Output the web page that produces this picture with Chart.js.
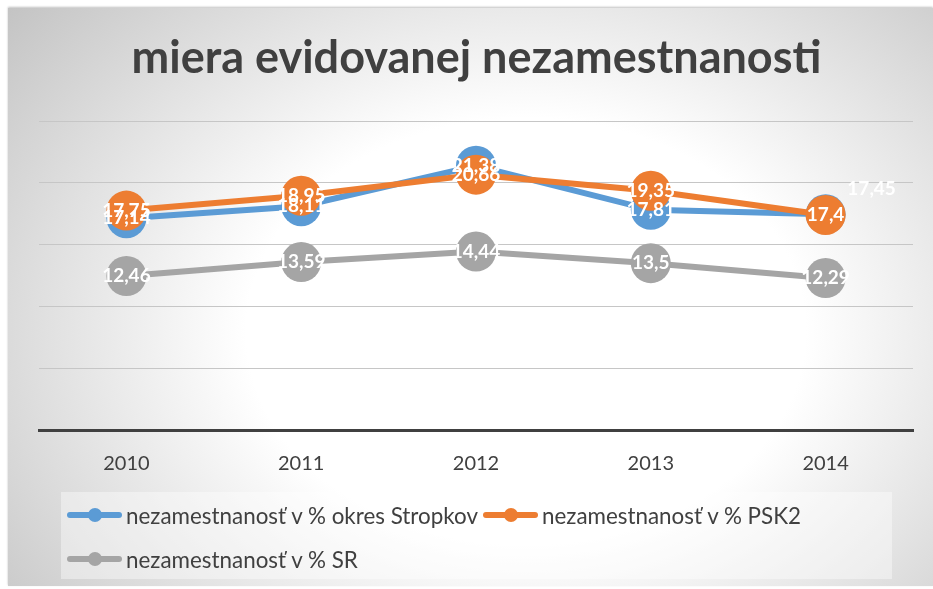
<!DOCTYPE html>
<html>
<head>
<meta charset="utf-8">
<title>miera evidovanej nezamestnanosti</title>
<script src="https://cdn.jsdelivr.net/npm/chart.js@4.4.0/dist/chart.umd.min.js"></script>
<style>
  body { margin: 0; background: #fff; }
  #frame {
    position: absolute; left: 8px; top: 8px; width: 925px; height: 578px;
    background: radial-gradient(ellipse 72% 88% at 56% 56%, #ffffff 0%, #ffffff 42%, #c4c4c4 100%);
    box-shadow: 0 -1px 2px rgba(0,0,0,0.25);
  }
  #wrap { position: absolute; left: 0; top: 0; width: 933px; height: 589px; }
  #legend {
    position: absolute; left: 61px; top: 492px; width: 831px; height: 87px;
    background: rgba(255,255,255,0.4);
    font-family: Lato, sans-serif; font-size: 22.4px; color: #404040;
    display: flex; flex-wrap: wrap; align-content: flex-start;
    padding: 10px 0 0 6px; box-sizing: border-box; row-gap: 18px; column-gap: 5px;
  }
  .item { display: flex; align-items: center; height: 26px; white-space: nowrap; }
  .mk { position: relative; width: 55px; height: 26px; margin-right: 4px; }
  .mk .ln { position: absolute; left: 0; right: 0; top: 10px; height: 6px; border-radius: 3px; }
  .mk .dot { position: absolute; left: 21px; top: 6px; width: 14px; height: 14px; border-radius: 50%; }
</style>
</head>
<body>
<div id="frame"></div>
<div id="wrap"><canvas id="chart" width="933" height="589"></canvas></div>
<div id="legend"></div>
<script>
// data
const years = ['2010', '2011', '2012', '2013', '2014'];
const stropkov = [17.14, 18.11, 21.38, 17.81, 17.45];
const psk2 = [17.75, 18.95, 20.66, 19.35, 17.4];
const sr = [12.46, 13.59, 14.44, 13.5, 12.29];
const seriesNames = ['nezamestnanosť v % okres Stropkov', 'nezamestnanosť v % PSK2', 'nezamestnanosť v % SR'];
const seriesColors = ['#5b9bd5', '#ed7d31', '#a5a5a5'];

// the 2014 Stropkov label sits beside its point in the original
const labelShift = { '0-4': [46, -25] };

function makeSet(i, values, order) {
  return {
    label: seriesNames[i],
    data: values,
    borderColor: seriesColors[i],
    backgroundColor: seriesColors[i],
    pointBackgroundColor: seriesColors[i],
    pointBorderColor: seriesColors[i],
    borderWidth: 6,
    pointRadius: 20,
    pointHoverRadius: 20,
    pointBorderWidth: 0,
    tension: 0,
    order: order
  };
}

// white value labels on the points
const valueLabels = {
  id: 'valueLabels',
  afterDatasetsDraw(chart) {
    const ctx = chart.ctx;
    ctx.save();
    ctx.font = 'bold 19px Lato, sans-serif';
    ctx.fillStyle = '#ffffff';
    ctx.textAlign = 'center';
    ctx.textBaseline = 'middle';
    chart.data.datasets.forEach((ds, di) => {
      const meta = chart.getDatasetMeta(di);
      meta.data.forEach((pt, i) => {
        const shift = labelShift[di + '-' + i] || [0, 0];
        const txt = String(ds.data[i]).replace('.', ',');
        ctx.fillText(txt, pt.x + shift[0], pt.y + shift[1]);
      });
    });
    ctx.restore();
  }
};

function buildLegend(chart) {
  const box = document.getElementById('legend');
  box.innerHTML = chart.data.datasets.map(ds => `
    <div class="item">
      <div class="mk"><div class="ln" style="background:${ds.borderColor}"></div><div class="dot" style="background:${ds.borderColor}"></div></div>
      <span>${ds.label}</span>
    </div>`).join('');
}

const chart = new Chart(document.getElementById('chart'), {
  type: 'line',
  data: {
    labels: years,
    datasets: [makeSet(0, stropkov, 2), makeSet(1, psk2, 1), makeSet(2, sr, 3)]
  },
  options: {
    responsive: false,
    animation: false,
    layout: { padding: { left: 39, right: 19, top: 0, bottom: 99 } },
    plugins: {
      legend: { display: false },
      tooltip: { enabled: false },
      title: {
        display: true,
        text: 'miera evidovanej nezamestnanosti',
        color: '#404040',
        font: { family: 'Lato, sans-serif', size: 45, weight: 'bold' },
        padding: { top: 31, bottom: 36 }
      }
    },
    scales: {
      x: {
        offset: true,
        grid: { display: false },
        border: { display: true, color: '#404040', width: 3 },
        ticks: { color: '#404040', font: { family: 'Lato, sans-serif', size: 20 }, padding: 14 }
      },
      y: {
        min: 0,
        max: 25,
        ticks: { display: false, stepSize: 5 },
        grid: { color: '#c6c6c6', lineWidth: 1, drawTicks: false },
        border: { display: false }
      }
    }
  },
  plugins: [valueLabels]
});

buildLegend(chart);
</script>
</body>
</html>
